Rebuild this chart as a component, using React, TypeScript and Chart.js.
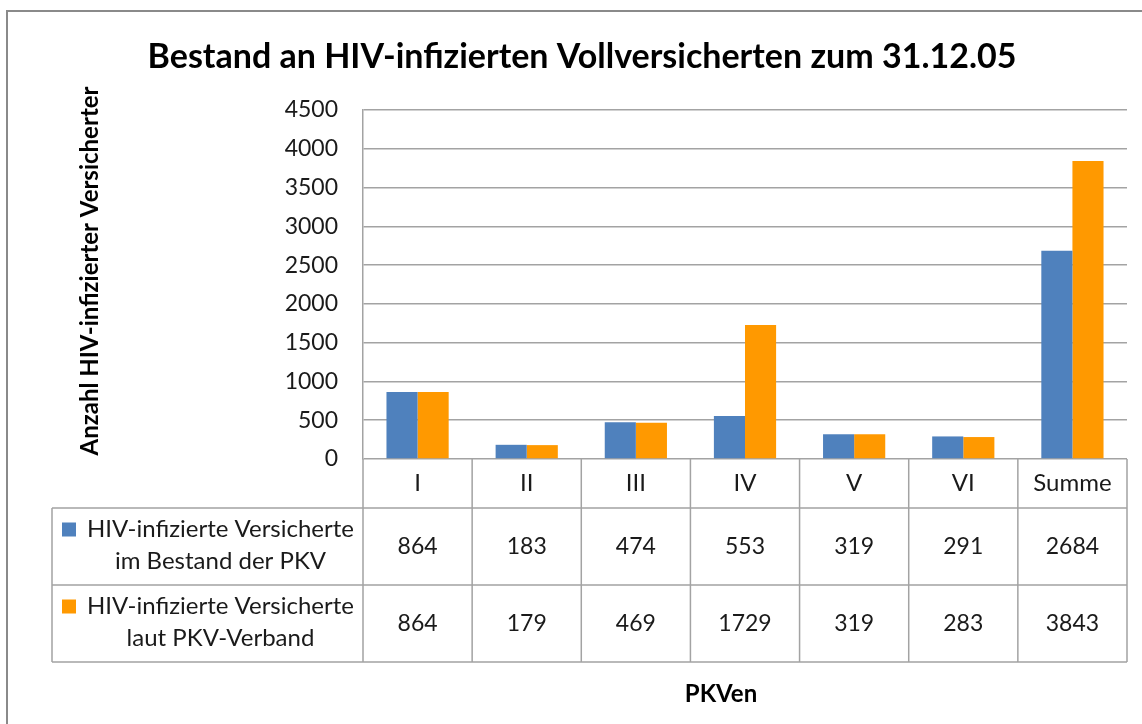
import React, { useEffect, useRef } from 'react';
import { Chart, registerables } from 'chart.js';

Chart.register(...registerables);

const categories: string[] = ['I', 'II', 'III', 'IV', 'V', 'VI', 'Summe'];
const seriesBestand: number[] = [864, 183, 474, 553, 319, 291, 2684];
const seriesVerband: number[] = [864, 179, 469, 1729, 319, 283, 3843];
const seriesNames: string[][] = [
  ['HIV-infizierte Versicherte', 'im Bestand der PKV'],
  ['HIV-infizierte Versicherte', 'laut PKV-Verband'],
];
const seriesColors: string[] = ['#4F81BD', '#FF9900'];
const yTickMin = 0;
const yTickMax = 4500;
const yTickStep = 500;
const titleText = 'Bestand an HIV-infizierten Vollversicherten zum 31.12.05';
const yTitleText = 'Anzahl HIV-infizierter Versicherter';
const xTitleText = 'PKVen';

const FONT = 'Lato, "Open Sans", sans-serif';
const LINE = '#a3a3a3';
const TEXT = '#1a1a1a';

const decorPlugin = {
  id: 'decor',
  afterDraw(chart: any) {
    const { ctx, chartArea, scales } = chart;
    const x = scales.x;
    const seriesData = [seriesBestand, seriesVerband];
    ctx.save();

    // outer frame
    ctx.strokeStyle = '#8a8a8a';
    ctx.lineWidth = 2;
    ctx.beginPath();
    ctx.moveTo(7, 724);
    ctx.lineTo(7, 11);
    ctx.lineTo(1142, 11);
    ctx.stroke();

    // title
    ctx.fillStyle = '#000';
    ctx.textAlign = 'center';
    ctx.textBaseline = 'middle';
    ctx.font = `bold 34px ${FONT}`;
    ctx.fillText(titleText, 582, 57);

    // y title
    ctx.save();
    ctx.translate(90, 271);
    ctx.rotate(-Math.PI / 2);
    ctx.font = `bold 24px ${FONT}`;
    ctx.fillText(yTitleText, 0, 0);
    ctx.restore();

    // x title
    ctx.font = `bold 24px ${FONT}`;
    ctx.fillText(xTitleText, 721, 694);

    // data table
    const n = categories.length;
    const catW = x.getPixelForValue(1) - x.getPixelForValue(0);
    const left = chartArea.left;
    const right = chartArea.right;
    const top = chartArea.bottom;
    const catRowH = 49;
    const dataRowH = 77;
    const legendLeft = 52;
    const row1Top = top + catRowH;
    const tableBottom = row1Top + dataRowH * 2;

    ctx.strokeStyle = LINE;
    ctx.lineWidth = 1.5;
    ctx.beginPath();
    for (let i = 0; i <= n; i++) {
      const bx = x.getPixelForValue(0) - catW / 2 + i * catW;
      ctx.moveTo(bx, top);
      ctx.lineTo(bx, tableBottom);
    }
    for (let r = 0; r <= 2; r++) {
      const y = row1Top + r * dataRowH;
      ctx.moveTo(legendLeft, y);
      ctx.lineTo(right, y);
    }
    ctx.moveTo(legendLeft, row1Top);
    ctx.lineTo(legendLeft, tableBottom);
    ctx.stroke();

    ctx.fillStyle = TEXT;
    ctx.font = `24px ${FONT}`;
    categories.forEach((c, i) => {
      ctx.fillText(c, x.getPixelForValue(i), top + catRowH / 2);
    });

    seriesData.forEach((vals, s) => {
      const mid = row1Top + s * dataRowH + dataRowH / 2;
      ctx.font = `23px ${FONT}`;
      vals.forEach((v, i) => {
        ctx.fillStyle = TEXT;
        ctx.fillText(String(v), x.getPixelForValue(i), mid);
      });
      ctx.font = `24px ${FONT}`;
      const textCx = (legendLeft + left) / 2 + 13;
      ctx.fillText(seriesNames[s][0], textCx, mid - 17);
      ctx.fillText(seriesNames[s][1], textCx, mid + 15);
      ctx.fillStyle = seriesColors[s];
      ctx.fillRect(62, mid - 17 - 7, 14, 14);
    });

    ctx.restore();
  },
};

export default function App() {
  const ref = useRef<HTMLCanvasElement>(null);
  useEffect(() => {
    if (!ref.current) return;
    const chart = new Chart(ref.current, {
      type: 'bar',
      data: {
        labels: categories,
        datasets: [
          {
            label: seriesNames[0].join(' '),
            data: seriesBestand,
            backgroundColor: seriesColors[0],
            categoryPercentage: 0.57,
            barPercentage: 1.0,
          },
          {
            label: seriesNames[1].join(' '),
            data: seriesVerband,
            backgroundColor: seriesColors[1],
            categoryPercentage: 0.57,
            barPercentage: 1.0,
          },
        ],
      },
      options: {
        responsive: false,
        animation: false,
        layout: { padding: { left: 0, top: 110, right: 15, bottom: 265 } },
        plugins: {
          legend: { display: false },
          title: { display: false },
          tooltip: { enabled: false },
        },
        scales: {
          x: { display: false },
          y: {
            min: yTickMin,
            max: yTickMax,
            ticks: {
              stepSize: yTickStep,
              padding: 25,
              color: TEXT,
              font: { family: FONT, size: 23 },
              callback: (v: any) => String(v),
            },
            grid: { color: LINE, lineWidth: 1.5, drawTicks: false },
            border: { display: true, color: LINE, width: 1.5 },
            afterFit: (scale: any) => {
              scale.width = 363;
            },
          },
        },
      },
      plugins: [decorPlugin],
    });
    return () => chart.destroy();
  }, []);
  return (
    <canvas
      ref={ref}
      width={1142}
      height={724}
      style={{ position: 'absolute', left: 0, top: 0, width: 1142, height: 724, background: '#fff' }}
    />
  );
}
